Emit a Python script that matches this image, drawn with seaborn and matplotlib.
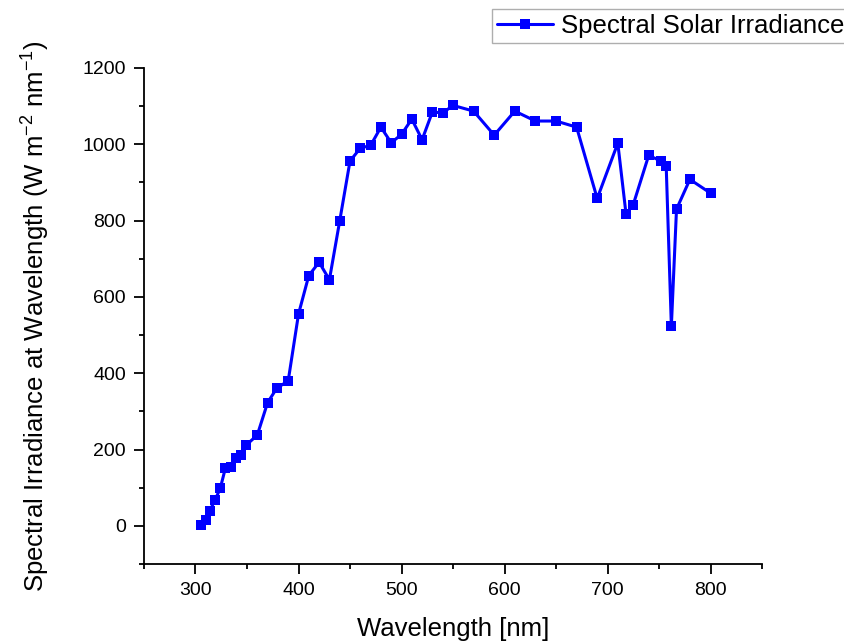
import matplotlib
matplotlib.use("Agg")
import matplotlib.pyplot as plt
import seaborn as sns
import pandas as pd
from matplotlib.ticker import MultipleLocator

wavelength = [305, 310, 314, 319, 324, 329, 334, 339, 344, 349, 360, 370, 379, 390,
              400, 410, 420, 430, 440, 450, 460, 470, 480, 490, 500, 510, 520, 530,
              540, 550, 570, 590, 610, 630, 650, 670, 690, 710, 718, 725, 740, 752,
              757, 762, 767, 780, 800]
irradiance = [3, 15, 40, 68, 98, 151, 154, 178, 185, 211, 238, 323, 361, 380,
              555, 656, 691, 645, 799, 956, 990, 997, 1045, 1004, 1026, 1066, 1012, 1085,
              1082, 1102, 1087, 1024, 1087, 1061, 1061, 1045, 858, 1003, 817, 842, 971, 956,
              942, 523, 830, 908, 872]
series_label = "Spectral Solar Irradiance"

df = pd.DataFrame({"wavelength": wavelength, "irradiance": irradiance})

sns.set_style("ticks")
plt.rcParams["font.family"] = ["Liberation Sans", "DejaVu Sans"]
plt.rcParams["mathtext.default"] = "regular"
plt.rcParams["text.color"] = "black"
plt.rcParams["axes.labelcolor"] = "black"
plt.rcParams["xtick.color"] = "black"
plt.rcParams["ytick.color"] = "black"

fig = plt.figure(figsize=(8.45, 6.41), dpi=100)
ax = fig.add_axes([144 / 845, 1 - 564 / 641, (762 - 144) / 845, (564 - 68) / 641])

sns.lineplot(data=df, x="wavelength", y="irradiance", ax=ax, sort=False,
             color="#0000FF", linewidth=2.2, marker="s", markersize=7.5,
             markeredgewidth=0, label=series_label)

ax.set_xlim(250, 850)
ax.set_ylim(-100, 1200)
ax.xaxis.set_major_locator(MultipleLocator(100))
ax.xaxis.set_minor_locator(MultipleLocator(50))
ax.yaxis.set_major_locator(MultipleLocator(200))
ax.yaxis.set_minor_locator(MultipleLocator(100))
ax.tick_params(which="major", length=7, width=1.3, labelsize=14, color="black",
               labelcolor="black", pad=6)
ax.tick_params(which="minor", length=3.5, width=1.3, color="black")
for s in ["left", "bottom"]:
    ax.spines[s].set_linewidth(1.3)
    ax.spines[s].set_color("black")
sns.despine(ax=ax)

ax.set_xlabel("Wavelength [nm]", fontsize=18.5, labelpad=13, color="black")
ax.set_ylabel(r"Spectral Irradiance at Wavelength (W m$^{-2}$ nm$^{-1}$)",
              fontsize=18.5, labelpad=22, color="black")

leg = ax.legend(loc="upper left", bbox_to_anchor=(492 / 845, 1 - 9 / 641),
                bbox_transform=fig.transFigure, fontsize=18.5, frameon=True,
                fancybox=False, edgecolor="#9a9a9a", handlelength=2.2,
                handletextpad=0.3, borderpad=0.19, borderaxespad=0)
leg.get_frame().set_linewidth(1.0)
for t in leg.get_texts():
    t.set_color("black")

fig.savefig("out.png", dpi=100)
